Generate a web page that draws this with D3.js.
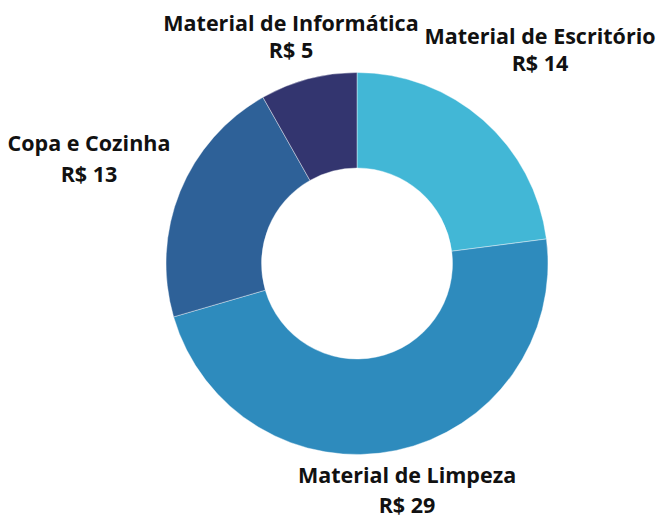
<!DOCTYPE html>
<html>
<head>
<meta charset="utf-8">
<script src="https://cdn.jsdelivr.net/npm/d3@7"></script>
<style>
  html, body { margin: 0; padding: 0; background: #fff; }
  svg { display: block; }
  text { font-family: "Open Sans", "Noto Sans", sans-serif; font-weight: 700; fill: #111; }
</style>
</head>
<body>
<svg id="chart" width="660" height="518"></svg>
<script>
const categories = ["Material de Escritório", "Material de Limpeza", "Copa e Cozinha", "Material de Informática"];
const values = [14, 29, 13, 5];
const valueLabels = ["R$ 14", "R$ 29", "R$ 13", "R$ 5"];
const colors = ["#42b7d6", "#2e8bbd", "#2e6198", "#33356f"];

// label layout (center x, first baseline y, line gap)
const labelLayout = [
  [540, 44, 27],
  [407, 483, 30],
  [89, 151, 31],
  [291, 31, 27]
];

const width = 660, height = 518;
const cx = 357, cy = 263.5, outerR = 191, innerR = 95.5;

const svg = d3.select("#chart");
const g = svg.append("g").attr("transform", `translate(${cx},${cy})`);

const pie = d3.pie().sort(null).value(d => d)(values);
const arc = d3.arc().innerRadius(innerR).outerRadius(outerR);

g.selectAll("path")
  .data(pie)
  .join("path")
  .attr("d", arc)
  .attr("fill", (d, i) => colors[i])
  .attr("stroke", "#ffffff")
  .attr("stroke-width", 0.4);

const labels = svg.append("g");
categories.forEach((c, i) => {
  const [x, y, gap] = labelLayout[i];
  const t = labels.append("text")
    .attr("text-anchor", "middle")
    .attr("font-size", 21.5);
  t.append("tspan").attr("x", x).attr("y", y).text(c);
  t.append("tspan").attr("x", x).attr("y", y + gap).text(valueLabels[i]);
});
</script>
</body>
</html>
